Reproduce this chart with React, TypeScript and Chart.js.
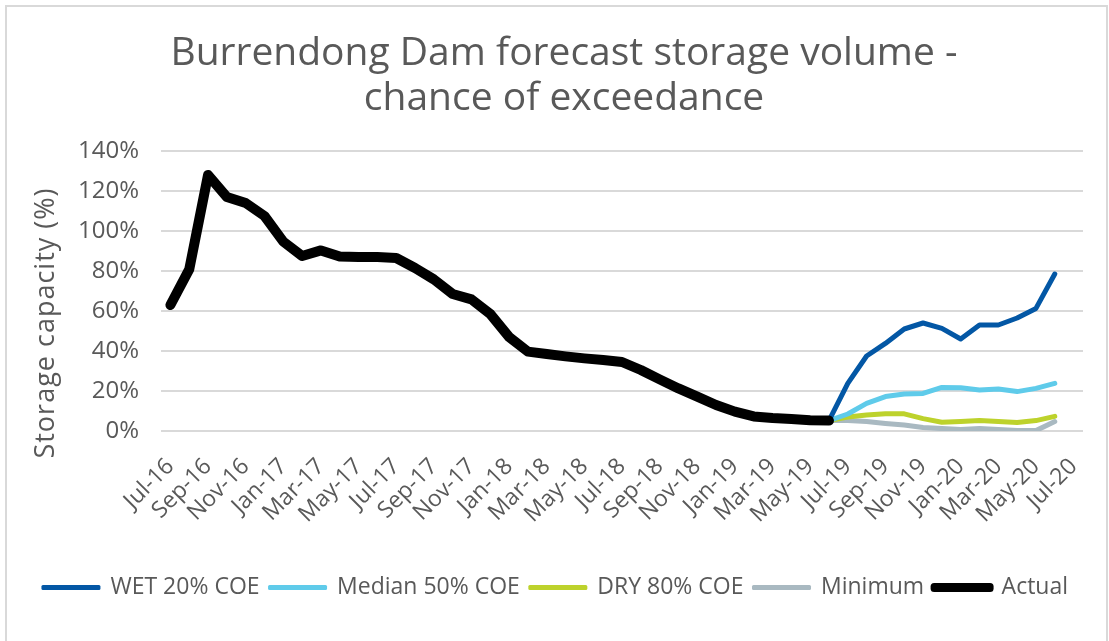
import React, { useEffect, useRef } from 'react';
import { Chart, registerables } from 'chart.js';

Chart.register(...registerables);

const months = [
  'Jul-16', 'Aug-16', 'Sep-16', 'Oct-16', 'Nov-16', 'Dec-16',
  'Jan-17', 'Feb-17', 'Mar-17', 'Apr-17', 'May-17', 'Jun-17',
  'Jul-17', 'Aug-17', 'Sep-17', 'Oct-17', 'Nov-17', 'Dec-17',
  'Jan-18', 'Feb-18', 'Mar-18', 'Apr-18', 'May-18', 'Jun-18',
  'Jul-18', 'Aug-18', 'Sep-18', 'Oct-18', 'Nov-18', 'Dec-18',
  'Jan-19', 'Feb-19', 'Mar-19', 'Apr-19', 'May-19', 'Jun-19',
  'Jul-19', 'Aug-19', 'Sep-19', 'Oct-19', 'Nov-19', 'Dec-19',
  'Jan-20', 'Feb-20', 'Mar-20', 'Apr-20', 'May-20', 'Jun-20',
  'Jul-20',
];

// Actual storage, Jul-16 .. Jun-19 (%)
const actual = [
  63, 80.8, 128, 117, 114, 107.5, 94.7, 87.5, 90.3, 87.2, 87, 87,
  86.5, 81.5, 75.8, 68.5, 65.8, 58.5, 47, 39.7, 38.5, 37.3, 36.3, 35.5,
  34.5, 30.5, 25.8, 21.3, 17.2, 13, 9.7, 7.3, 6.5, 6, 5.4, 5.2,
];

// Forecasts start at Jun-19 and run to Jun-20 (%)
const forecastStart = 'Jun-19';
const wet20 = [5.2, 23.8, 37.5, 43.8, 51, 54, 51.3, 46, 53, 53, 56.5, 61.3, 78.5];
const median50 = [5.2, 8.5, 13.8, 17.2, 18.5, 18.8, 21.8, 21.6, 20.5, 21, 19.7, 21.3, 23.8];
const dry80 = [5.2, 7, 8, 8.6, 8.6, 6.2, 4.4, 4.7, 5.2, 4.8, 4.3, 5.2, 7.3];
const minimum = [5.2, 5.2, 4.7, 3.8, 3, 1.8, 1.2, 0.8, 1.2, 0.8, 0.2, 0.2, 4.7];

const yTicks = [0, 20, 40, 60, 80, 100, 120, 140];
const titleLines = ['Burrendong Dam forecast storage volume -', 'chance of exceedance'];
const yTitle = 'Storage capacity (%)';

const FONT = "'Open Sans', 'DejaVu Sans', sans-serif";
const TEXT = '#595959';

function pad(values: number[]): (number | null)[] {
  const start = months.indexOf(forecastStart);
  return [...Array(start).fill(null), ...values];
}

const textPlugin = {
  id: 'titlesText',
  afterDraw(chart: any) {
    const ctx = chart.ctx;
    // chart title
    ctx.save();
    ctx.font = `39px ${FONT}`;
    ctx.fillStyle = TEXT;
    ctx.textAlign = 'center';
    ctx.textBaseline = 'alphabetic';
    titleLines.forEach((line, i) => ctx.fillText(line, 564, 65 + i * 45));
    ctx.restore();
    // y axis title
    ctx.save();
    ctx.translate(46, 323);
    ctx.rotate(-Math.PI / 2);
    ctx.font = `27px ${FONT}`;
    if ('letterSpacing' in ctx) (ctx as any).letterSpacing = '1px';
    ctx.fillStyle = TEXT;
    ctx.textAlign = 'center';
    ctx.textBaseline = 'middle';
    ctx.fillText(yTitle, 0, 0);
    ctx.restore();
  },
};

export default function App() {
  const canvasRef = useRef<HTMLCanvasElement | null>(null);

  useEffect(() => {
    document.body.style.margin = '0';
    const canvas = canvasRef.current;
    if (!canvas) return;

    const mk = (label: string, data: (number | null)[], color: string, width: number, order: number) => ({
      label,
      data,
      borderColor: color,
      backgroundColor: color,
      borderWidth: width,
      pointRadius: 0,
      pointHoverRadius: 0,
      tension: 0,
      borderCapStyle: 'round' as const,
      borderJoinStyle: 'round' as const,
      spanGaps: false,
      order,
    });

    const chart = new Chart(canvas, {
      type: 'line',
      data: {
        labels: months,
        datasets: [
          mk('WET 20% COE', pad(wet20), '#0357A5', 5, 1),
          mk('Median 50% COE', pad(median50), '#5FCBEA', 5, 2),
          mk('DRY 80% COE', pad(dry80), '#BDD22C', 5, 3),
          mk('Minimum', pad(minimum), '#A9B9C1', 5, 4),
          mk('Actual', actual, '#000000', 10, 0),
        ],
      },
      plugins: [textPlugin],
      options: {
        animation: false,
        responsive: false,
        maintainAspectRatio: false,
        layout: { padding: { left: 28, right: 26, top: 151, bottom: 32 } },
        plugins: {
          tooltip: { enabled: false },
          title: { display: false },
          legend: {
            position: 'bottom',
            labels: {
              color: TEXT,
              font: { family: FONT, size: 23 },
              boxWidth: 56,
              boxHeight: 2,
              padding: 10,
              sort: (a: any, b: any) => a.datasetIndex - b.datasetIndex,
              generateLabels: (chart: any) => {
                const items = Chart.defaults.plugins.legend.labels.generateLabels(chart);
                return items.map((it: any) => {
                  const ds = chart.data.datasets[it.datasetIndex];
                  return {
                    ...it,
                    fillStyle: ds.borderColor,
                    strokeStyle: ds.borderColor,
                    lineWidth: ds.borderWidth >= 10 ? 7 : 3,
                    lineCap: 'round',
                    lineJoin: 'round',
                    lineDash: [],
                  };
                });
              },
            },
          },
        },
        scales: {
          x: {
            offset: true,
            grid: { display: false, drawTicks: false, offset: true },
            border: { display: false },
            ticks: {
              color: TEXT,
              font: { family: FONT, size: 23 },
              autoSkip: false,
              maxRotation: 45,
              minRotation: 45,
              padding: 22,
              callback: (_v: any, i: number) => (i % 2 === 0 ? months[i] : ''),
            },
            afterFit: (scale: any) => {
              scale.height = 135;
              scale.paddingRight = 0;
              scale.paddingLeft = 0;
            },
          },
          y: {
            min: 0,
            max: 140,
            afterBuildTicks: (scale: any) => {
              scale.ticks = yTicks.map((v) => ({ value: v }));
            },
            grid: { color: '#d9d9d9', lineWidth: 2, drawTicks: false },
            border: { display: false },
            ticks: {
              color: TEXT,
              font: { family: FONT, size: 24 },
              padding: 22,
              callback: (v: any) => `${v}%`,
            },
            afterFit: (scale: any) => {
              scale.width = 133;
            },
          },
        },
      },
    });

    return () => chart.destroy();
  }, []);

  return (
    <div style={{ position: 'relative', width: 1109, height: 641, overflow: 'hidden', background: '#fff' }}>
      <div
        style={{
          position: 'absolute',
          left: 5,
          top: 5,
          width: 1099,
          height: 700,
          border: '2px solid #d9d9d9',
        }}
      />
      <canvas ref={canvasRef} width={1109} height={641} style={{ position: 'absolute', left: 0, top: 0 }} />
    </div>
  );
}
